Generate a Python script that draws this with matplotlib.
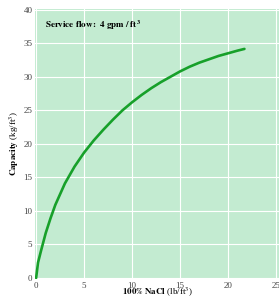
import matplotlib.pyplot as plt

# values
nacl = [0, 0.2, 0.5, 1, 1.5, 2, 3, 4, 5, 6, 7, 8, 9, 10, 11, 12, 13, 14, 15, 16, 17, 18, 19, 20, 21, 21.7]
capacity = [0, 2.3, 4.0, 6.7, 8.9, 10.9, 14.1, 16.6, 18.7, 20.5, 22.1, 23.6, 25.0, 26.2, 27.3, 28.3,
            29.2, 30.0, 30.8, 31.5, 32.1, 32.6, 33.1, 33.5, 33.9, 34.15]
x_ticks = [0, 5, 10, 15, 20, 25]
y_ticks = [0, 5, 10, 15, 20, 25, 30, 35, 40]

plt.rcParams['font.family'] = ['Liberation Serif', 'DejaVu Serif']
plt.rcParams['mathtext.fontset'] = 'stix'

fig = plt.figure(figsize=(2.79, 3.0), dpi=100)
ax = fig.add_axes([0.126, 0.07, 0.874, 0.9])
ax.set_facecolor('#c3ebd1')
ax.plot(nacl, capacity, color='#17a02a', lw=1.9, solid_capstyle='round',
        solid_joinstyle='round')

ax.set_xlim(-0.1, 25.3)
ax.set_ylim(-0.15, 40.1)
ax.set_xticks(x_ticks)
ax.set_yticks(y_ticks)
ax.grid(color='white', lw=0.8)
ax.set_axisbelow(True)
for s in ax.spines.values():
    s.set_visible(False)
ax.tick_params(length=0, labelsize=6.5, colors='#444444', pad=2)

ax.set_xlabel(r'$\mathbf{100\%\ NaCl}$ (lb/ft$^3$)', fontsize=6.5, labelpad=-2.5)
ax.set_ylabel(r'$\mathbf{Capacity}$ (kg/ft$^3$)', fontsize=6.5, labelpad=2)
ax.text(0.04, 0.94, r'$\mathbf{Service\ flow{:}\ 4\ gpm\ /\ ft^3}$', transform=ax.transAxes,
        fontsize=6.5, va='center', ha='left')

plt.savefig('out.png')
